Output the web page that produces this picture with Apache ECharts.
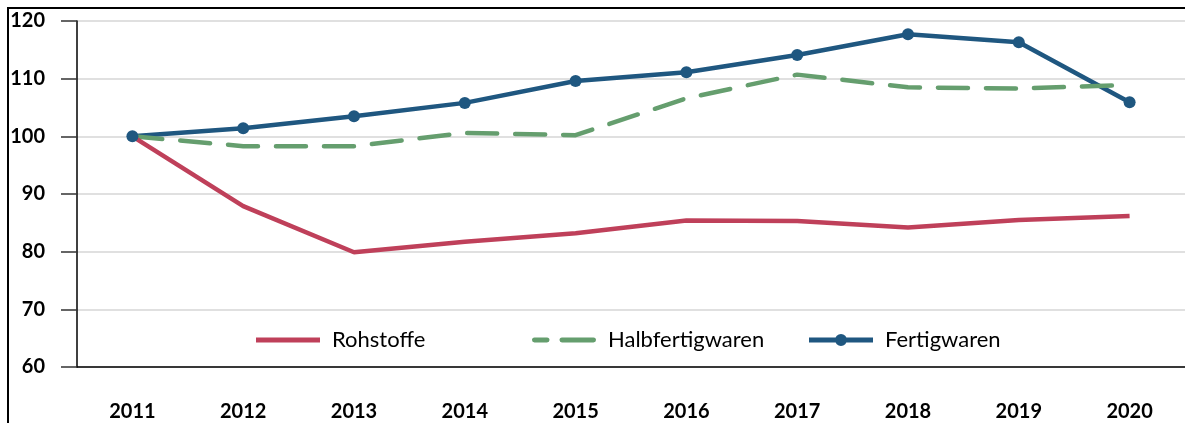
<!DOCTYPE html>
<html>
<head>
<meta charset="utf-8">
<script src="https://cdn.jsdelivr.net/npm/echarts@6/dist/echarts.min.js"></script>
<style>
html,body{margin:0;padding:0;background:#fff;}
#chart{width:1185px;height:423px;}
</style>
</head>
<body>
<div id="chart"></div>
<script>
const years = ['2011','2012','2013','2014','2015','2016','2017','2018','2019','2020'];
const rohstoffe = [100, 87.9, 79.9, 81.7, 83.2, 85.4, 85.3, 84.2, 85.5, 86.2];
const halbfertigwaren = [100, 98.3, 98.3, 100.6, 100.2, 106.6, 110.7, 108.5, 108.3, 108.9];
const fertigwaren = [100, 101.4, 103.5, 105.8, 109.6, 111.1, 114.1, 117.7, 116.3, 105.9];
const yTicks = {min: 60, max: 120, interval: 10};

const FONT = 'Lato, "Noto Sans", sans-serif';
const RED = '#BF405A', GREEN = '#659E6E', BLUE = '#1F5780';

const ICON_SOLID = 'path://M0,4 L64,4 L64,9 L0,9 Z M0,0 L0.01,0 Z M0,13 L0.01,13 Z';
const ICON_DASH = 'path://M2.5,4 L15,4 A2.5,2.5 0 0 1 15,9 L2.5,9 A2.5,2.5 0 0 1 2.5,4 Z M30,4 L61.5,4 A2.5,2.5 0 0 1 61.5,9 L30,9 A2.5,2.5 0 0 1 30,4 Z M0,0 L0.01,0 Z M0,13 L0.01,13 Z M64,0 L64.01,0 Z';
const ICON_MARK = 'path://M0,4 L64,4 L64,9 L0,9 Z M38,6.5 A6,6 0 1 1 26,6.5 A6,6 0 1 1 38,6.5 Z M0,0 L0.01,0 Z M0,13 L0.01,13 Z';

const chart = echarts.init(document.getElementById('chart'), null, {renderer: 'canvas'});

function legendAt(name, icon, left) {
  return {
    data: [{name: name, icon: icon}], left: left, top: 324, itemWidth: 64, itemHeight: 13,
    selectedMode: false, symbolKeepAspect: true,
    textStyle: {fontFamily: FONT, fontSize: 22, color: '#000', lineHeight: 22, padding: [0,0,0,7]}
  };
}

chart.setOption({
  animation: false,
  backgroundColor: '#fff',
  graphic: [{
    type: 'rect', silent: true, z: 100,
    shape: {x: 8, y: 8, width: 1200, height: 500},
    style: {fill: 'none', stroke: '#000', lineWidth: 2}
  }],
  grid: {left: 77, top: 21, width: 1111, height: 346, containLabel: false},
  legend: [
    legendAt('Rohstoffe', ICON_SOLID, 251),
    legendAt('Halbfertigwaren', ICON_DASH, 527),
    legendAt('Fertigwaren', ICON_MARK, 804)
  ],
  xAxis: {
    type: 'category', data: years, boundaryGap: true,
    axisLine: {lineStyle: {color: '#000', width: 1.5}},
    axisTick: {alignWithLabel: true, length: 16, lineStyle: {color: '#333', width: 1.5}},
    axisLabel: {fontFamily: FONT, fontSize: 20, fontWeight: 'bold', color: '#000', margin: 35},
    splitLine: {show: false}
  },
  yAxis: {
    type: 'value', min: yTicks.min, max: yTicks.max, interval: yTicks.interval,
    axisLine: {show: true, lineStyle: {color: '#000', width: 1.5}},
    axisTick: {show: true, length: 16, lineStyle: {color: '#333', width: 1.5}},
    axisLabel: {fontFamily: FONT, fontSize: 20, fontWeight: 'bold', color: '#000', margin: 32},
    splitLine: {show: true, lineStyle: {color: '#D6D6D6', width: 1.5}}
  },
  series: [
    {
      name: 'Fertigwaren', type: 'line', data: fertigwaren,
      symbol: 'circle', symbolSize: 12, showSymbol: true,
      lineStyle: {color: BLUE, width: 4.5}, itemStyle: {color: BLUE}
    },
    {
      name: 'Halbfertigwaren', type: 'line', data: halbfertigwaren,
      symbol: 'none', showSymbol: false,
      lineStyle: {color: GREEN, width: 4.5, type: [30, 18], cap: 'round'}, itemStyle: {color: GREEN}
    },
    {
      name: 'Rohstoffe', type: 'line', data: rohstoffe,
      symbol: 'none', showSymbol: false,
      lineStyle: {color: RED, width: 4.5}, itemStyle: {color: RED}
    }
  ]
});
</script>
</body>
</html>
